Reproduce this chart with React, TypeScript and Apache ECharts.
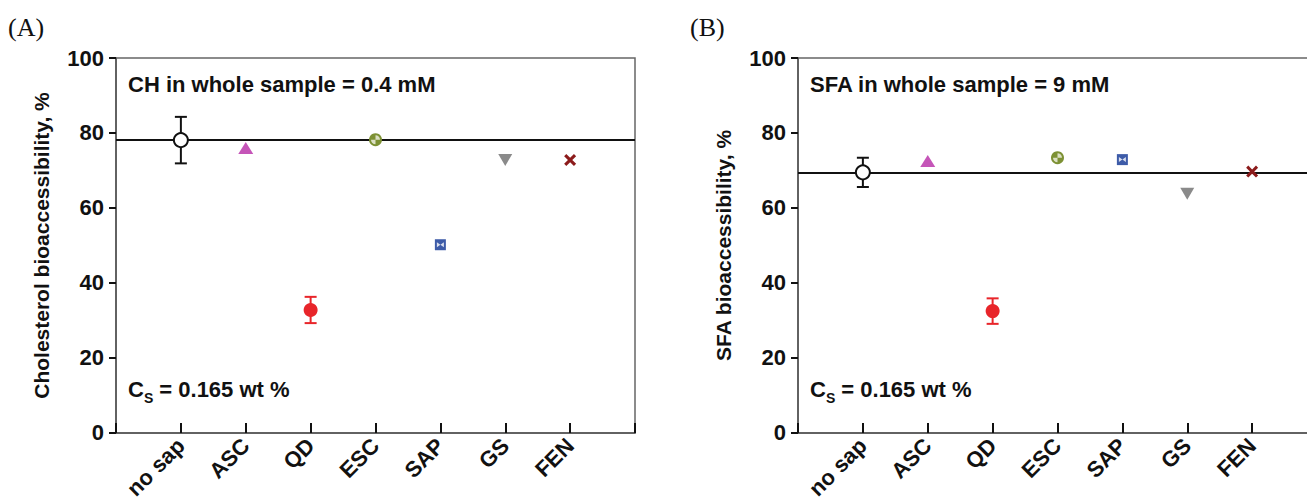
import React, { useEffect, useRef } from "react";
import * as echarts from "echarts";

const categories = ["no sap", "ASC", "QD", "ESC", "SAP", "GS", "FEN"];
const cholMean = [78.1, 76.0, 32.8, 78.2, 50.2, 72.8, 72.8];
const cholErr = [6.2, 0, 3.5, 0, 0, 0, 0];
const sfaMean = [69.5, 72.5, 32.5, 73.4, 72.9, 63.8, 69.7];
const sfaErr = [3.9, 0, 3.4, 0, 0, 0, 0];
const refLines = [78.1, 69.5];
const yTicks = [0, 20, 40, 60, 80, 100];
const panelLetters = ["(A)", "(B)"];
const yNames = ["Cholesterol bioaccessibility, %", "SFA bioaccessibility, %"];
const topNotes = ["CH in whole sample = 0.4 mM", "SFA in whole sample = 9 mM"];

const FONT = "'Liberation Sans', Arial, sans-serif";

const markerDefs = [
  { symbol: "circle", size: 14, color: "#ffffff", border: "#111111", bw: 2 },
  { symbol: "triangle", size: [15, 12], color: "#c555b8" },
  { symbol: "circle", size: 14, color: "#e8252a" },
  { symbol: "circle", size: 13, color: "#7d9134" },
  { symbol: "rect", size: 11, color: "#3d5ba8" },
  { symbol: "triangle", size: [14, 12], color: "#8a8a8a", rotate: 180 },
  {
    symbol:
      "path://M0,1.8 L1.8,0 L5,3.2 L8.2,0 L10,1.8 L6.8,5 L10,8.2 L8.2,10 L5,6.8 L1.8,10 L0,8.2 L3.2,5 Z",
    size: 12,
    color: "#8c1b1b",
  },
];
const errColors = ["#111111", "", "#e8252a", "", "", "", ""];

export default function App() {
  const ref = useRef<HTMLDivElement>(null);
  useEffect(() => {
    if (!ref.current) return;
    document.body.style.margin = "0";
    document.body.style.overflow = "hidden";
    const chart = echarts.init(ref.current, null, { renderer: "svg" });
    const grids = [
      { left: 116, top: 58, width: 519, height: 375 },
      { left: 798, top: 58, width: 519, height: 375 },
    ];
    const means = [cholMean, sfaMean];
    const errs = [cholErr, sfaErr];
    const xAxes: any[] = [];
    const yAxes: any[] = [];
    const series: any[] = [];
    const graphics: any[] = [];
    grids.forEach((g, gi) => {
      xAxes.push({
        gridIndex: gi,
        type: "value",
        min: 0,
        max: 8,
        interval: 1,
        axisLine: { show: true, lineStyle: { color: "#555", width: 1.5 } },
        axisTick: { show: true, inside: true, length: 10, lineStyle: { color: "#111", width: 2 } },
        splitLine: { show: false },
        axisLabel: {
          rotate: 45,
          margin: 9,
          fontFamily: FONT,
          fontWeight: "bold",
          fontSize: 22,
          color: "#111",
          formatter: (v: number) => (v >= 1 && v <= 7 ? categories[v - 1] : ""),
        },
      });
      yAxes.push({
        gridIndex: gi,
        type: "value",
        min: 0,
        max: 100,
        interval: 20,
        name: yNames[gi],
        nameLocation: "middle",
        nameGap: 64,
        nameTextStyle: { fontFamily: FONT, fontWeight: "bold", fontSize: 21, color: "#111" },
        axisLine: { show: true, lineStyle: { color: "#555", width: 1.5 } },
        axisTick: { show: true, inside: false, length: 7, lineStyle: { color: "#111", width: 2 } },
        splitLine: { show: false },
        axisLabel: {
          margin: 12,
          fontFamily: FONT,
          fontWeight: "bold",
          fontSize: 22,
          color: "#111",
          formatter: (v: number) => (yTicks.includes(v) ? String(v) : ""),
        },
      });
      const errData = means[gi]
        .map((m, i) =>
          errs[gi][i] > 0
            ? { value: [i + 1, m - errs[gi][i], m + errs[gi][i]], itemStyle: { color: errColors[i] } }
            : null
        )
        .filter((d) => d);
      series.push({
        type: "custom",
        xAxisIndex: gi,
        yAxisIndex: gi,
        z: 3,
        data: errData,
        renderItem: (params: any, api: any) => {
          const x = api.value(0);
          const lo = api.coord([x, api.value(1)]);
          const hi = api.coord([x, api.value(2)]);
          const c = api.visual("color");
          const hw = 6;
          const st = { stroke: c, lineWidth: 2 };
          return {
            type: "group",
            children: [
              { type: "line", shape: { x1: lo[0], y1: lo[1], x2: hi[0], y2: hi[1] }, style: st },
              { type: "line", shape: { x1: lo[0] - hw, y1: lo[1], x2: lo[0] + hw, y2: lo[1] }, style: st },
              { type: "line", shape: { x1: hi[0] - hw, y1: hi[1], x2: hi[0] + hw, y2: hi[1] }, style: st },
            ],
          };
        },
      });
      means[gi].forEach((m, i) => {
        const d = markerDefs[i];
        const s: any = {
          type: "scatter",
          name: categories[i],
          xAxisIndex: gi,
          yAxisIndex: gi,
          z: 5,
          symbol: d.symbol,
          symbolSize: d.size,
          symbolRotate: d.rotate || 0,
          itemStyle: {
            color: d.color,
            borderColor: d.border || d.color,
            borderWidth: d.bw || 0,
            opacity: 1,
          },
          data: [[i + 1, m]],
        };
        if (i === 0) {
          s.markLine = {
            silent: true,
            symbol: "none",
            label: { show: false },
            lineStyle: { color: "#111", width: 2, type: "solid" },
            data: [{ yAxis: refLines[gi] }],
            z: 2,
          };
        }
        series.push(s);
      });
      series.push({
        type: "scatter",
        xAxisIndex: gi,
        yAxisIndex: gi,
        z: 6,
        symbol: "path://M5,5 L5,0 A5,5 0 0 1 10,5 Z M5,5 L5,10 A5,5 0 0 1 0,5 Z",
        symbolSize: 9,
        itemStyle: { color: "#f4f4e8" },
        data: [[4, means[gi][3]]],
      });
      series.push({
        type: "scatter",
        xAxisIndex: gi,
        yAxisIndex: gi,
        z: 6,
        symbol: "path://M0,0 L10,0 L5,5 Z M0,10 L10,10 L5,5 Z",
        symbolSize: [5, 7],
        symbolRotate: 90,
        itemStyle: { color: "#ffffff" },
        data: [[5, means[gi][4]]],
      });
      graphics.push({
        type: "text",
        left: g.left - 108,
        top: 14,
        style: { text: panelLetters[gi], font: "26px 'Liberation Serif', 'Times New Roman', serif", fill: "#111" },
      });
      graphics.push({
        type: "text",
        left: g.left + 12,
        top: 73,
        style: { text: topNotes[gi], font: `bold 22px ${FONT}`, fill: "#111" },
      });
      graphics.push({
        type: "text",
        left: g.left + 12,
        top: 377,
        style: {
          text: "{c|C}{s|S}{c| = 0.165 wt %}",
          rich: {
            c: { fontFamily: FONT, fontWeight: "bold", fontSize: 22, fill: "#111", verticalAlign: "top", lineHeight: 26 },
            s: { fontFamily: FONT, fontWeight: "bold", fontSize: 14, fill: "#111", padding: [14, 0, 0, 0], lineHeight: 26 },
          },
        },
      });
    });
    chart.setOption({
      animation: false,
      backgroundColor: "#ffffff",
      grid: grids.map((g) => ({
        ...g,
        show: true,
        borderColor: "#666",
        borderWidth: 1.5,
        backgroundColor: "transparent",
      })),
      xAxis: xAxes,
      yAxis: yAxes,
      series,
      graphic: graphics,
    });
    return () => chart.dispose();
  }, []);
  return (
    <div style={{ position: "absolute", left: 0, top: 0, width: 1307, height: 502, overflow: "hidden", background: "#fff" }}>
      <div ref={ref} style={{ position: "absolute", left: 0, top: 0, width: 1322, height: 502 }} />
    </div>
  );
}
